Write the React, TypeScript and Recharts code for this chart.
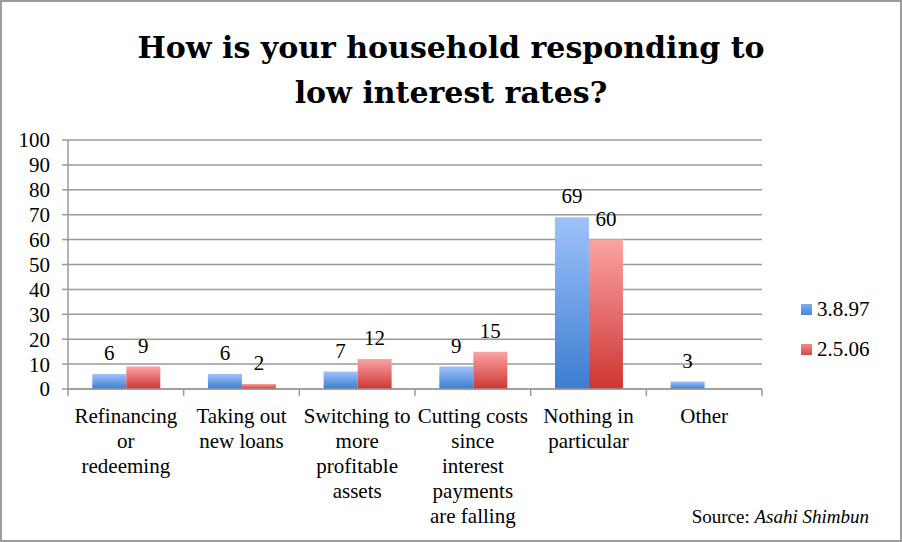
import { BarChart, Bar, XAxis, YAxis, CartesianGrid, LabelList } from "recharts"

const CATEGORIES = [
  "Refinancing\nor\nredeeming",
  "Taking out\nnew loans",
  "Switching to\nmore\nprofitable\nassets",
  "Cutting costs\nsince\ninterest\npayments\nare falling",
  "Nothing in\nparticular",
  "Other",
]
const SERIES_NAMES = ["3.8.97", "2.5.06"]
const SERIES_1997 = [6, 6, 7, 9, 69, 3]
const SERIES_2006: (number | null)[] = [9, 2, 12, 15, 60, null]
const Y_TICKS = [0, 10, 20, 30, 40, 50, 60, 70, 80, 90, 100]

const data = CATEGORIES.map((name, i) => ({
  name,
  s1: SERIES_1997[i],
  s2: SERIES_2006[i],
}))

const W = 902
const H = 542
const MARGIN = { top: 140, right: 140, left: 0, bottom: 0 }
const Y_AXIS_W = 68
const BAND = (W - MARGIN.left - MARGIN.right - Y_AXIS_W) / CATEGORIES.length

const FONT = "'Liberation Serif', 'Times New Roman', serif"
const TITLE_FONT = "'DejaVu Serif', serif"
const GRID = "#9a9a9a"

// category labels wrapped like the original, with tick marks at band edges
// eslint-disable-next-line @typescript-eslint/no-explicit-any
function CategoryTick(props: any) {
  const { x, y, payload, index } = props
  const lines = String(payload.value).split("\n")
  return (
    <g>
      <line x1={x - BAND / 2} x2={x - BAND / 2} y1={y} y2={y + 7} stroke={GRID} strokeWidth={1.5} />
      {index === CATEGORIES.length - 1 && (
        <line x1={x + BAND / 2} x2={x + BAND / 2} y1={y} y2={y + 7} stroke={GRID} strokeWidth={1.5} />
      )}
      <text x={x} y={y + 34} textAnchor="middle" fontFamily={FONT} fontSize={21} fill="#000">
        {lines.map((l, i) => (
          <tspan key={i} x={x} dy={i === 0 ? 0 : 25}>
            {l}
          </tspan>
        ))}
      </text>
    </g>
  )
}

export default function App() {
  return (
    <div style={{ position: "relative", width: W, height: H, background: "#fff" }}>
      <style>{"body{margin:0}"}</style>
      <BarChart
        width={W}
        height={H}
        data={data}
        margin={MARGIN}
        barCategoryGap="21%"
        barGap={0}
      >
        <defs>
          <linearGradient id="gBlue" x1="0" y1="0" x2="0" y2="1">
            <stop offset="0%" stopColor="#9fc2fb" />
            <stop offset="100%" stopColor="#3b7dd0" />
          </linearGradient>
          <linearGradient id="gRed" x1="0" y1="0" x2="0" y2="1">
            <stop offset="0%" stopColor="#fba3a3" />
            <stop offset="100%" stopColor="#cd3633" />
          </linearGradient>
        </defs>
        <CartesianGrid vertical={false} stroke={GRID} strokeWidth={1.5} />
        <XAxis
          dataKey="name"
          height={153}
          interval={0}
          axisLine={{ stroke: GRID, strokeWidth: 1.5 }}
          tickLine={false}
          tickSize={0}
          tickMargin={0}
          tick={<CategoryTick />}
        />
        <YAxis
          width={Y_AXIS_W}
          domain={[0, 100]}
          ticks={Y_TICKS}
          interval={0}
          axisLine={{ stroke: GRID, strokeWidth: 1.5 }}
          tickLine={{ stroke: GRID, strokeWidth: 1.5 }}
          tickSize={6}
          tickMargin={12}
          tick={{ fontFamily: FONT, fontSize: 21, fill: "#000" }}
        />
        <Bar dataKey="s1" name={SERIES_NAMES[0]} fill="url(#gBlue)" isAnimationActive={false}>
          <LabelList dataKey="s1" position="top" offset={14} fontFamily={FONT} fontSize={21} fill="#000" />
        </Bar>
        <Bar dataKey="s2" name={SERIES_NAMES[1]} fill="url(#gRed)" isAnimationActive={false}>
          <LabelList dataKey="s2" position="top" offset={14} fontFamily={FONT} fontSize={21} fill="#000" />
        </Bar>
      </BarChart>

      {/* title */}
      <div
        style={{
          position: "absolute",
          left: 0,
          top: 25,
          width: W,
          textAlign: "center",
          fontFamily: TITLE_FONT,
          fontWeight: 700,
          fontSize: 30,
          lineHeight: "45px",
          color: "#000",
        }}
      >
        How is your household responding to
        <br />
        low interest rates?
      </div>

      {/* legend */}
      <div style={{ position: "absolute", left: 801, top: 289, fontFamily: FONT, fontSize: 21, color: "#000" }}>
        {SERIES_NAMES.map((n, i) => (
          <div key={n} style={{ display: "flex", alignItems: "center", height: 40 }}>
            <span
              style={{
                display: "inline-block",
                width: 11,
                height: 11,
                marginRight: 5,
                background: i === 0 ? "linear-gradient(#7fadf2, #4a86d8)" : "linear-gradient(#f08a88, #d44c49)",
              }}
            />
            {n}
          </div>
        ))}
      </div>

      {/* source */}
      <div
        style={{
          position: "absolute",
          right: 33,
          top: 506,
          fontFamily: FONT,
          fontSize: 19,
          color: "#000",
        }}
      >
        Source: <i>Asahi Shimbun</i>
      </div>

      <div
        style={{
          position: "absolute",
          inset: 0,
          border: "2px solid #9c9c9c",
          boxSizing: "border-box",
          pointerEvents: "none",
        }}
      />
    </div>
  )
}
